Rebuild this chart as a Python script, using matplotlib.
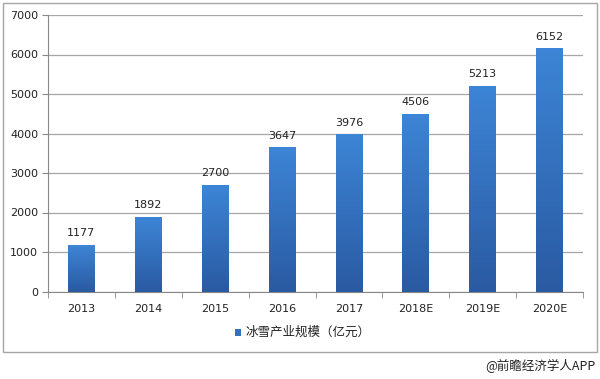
import matplotlib
matplotlib.use("Agg")
import matplotlib.pyplot as plt
import numpy as np
from matplotlib.patches import Rectangle
from matplotlib.colors import LinearSegmentedColormap

plt.rcParams['font.family'] = ['DejaVu Sans', 'Noto Sans CJK SC']

categories = ["2013", "2014", "2015", "2016", "2017", "2018E", "2019E", "2020E"]
values = [1177, 1892, 2700, 3647, 3976, 4506, 5213, 6152]
series_name = "冰雪产业规模（亿元）"
yticks = [0, 1000, 2000, 3000, 4000, 5000, 6000, 7000]

fig = plt.figure(figsize=(6, 3.79), dpi=100)
fig.patch.set_facecolor("white")

# outer frame
fig.add_artist(Rectangle((3/600, 1-352/379), 594/600, 349/379, transform=fig.transFigure,
                         fill=False, edgecolor="#a6a6a6", linewidth=1.0))

ax = fig.add_axes([48/600, 1-291.5/379, 535/600, 276.5/379])
x = np.arange(len(categories))
bw = 0.40
bars = ax.bar(x, values, width=bw, color="#3370c0", zorder=3)

cmap = LinearSegmentedColormap.from_list("g", ["#2a5aa2", "#3d85d6"])
grad = np.linspace(0, 1, 256).reshape(-1, 1)
for b in bars:
    bx, by = b.get_x(), b.get_y()
    w, h = b.get_width(), b.get_height()
    im = ax.imshow(grad, cmap=cmap, aspect="auto", origin="lower",
                   extent=[bx, bx + w, by, by + h], zorder=4)
    im.set_clip_path(b)

for xi, v in zip(x, values):
    ax.text(xi, v + 170, str(v), ha="center", va="bottom", fontsize=8, color="#222222", zorder=5)

ax.set_xlim(-0.5, len(categories) - 0.5)
ax.set_ylim(0, 7000)
ax.set_yticks(yticks)
ax.set_yticklabels([str(t) for t in yticks], fontsize=8, color="#222222")
ax.yaxis.grid(True, color="#a6a6a6", linewidth=0.9, zorder=0)
ax.set_axisbelow(True)
ax.set_xticks(x)
ax.set_xticklabels(categories, fontsize=8, color="#222222")
ax.tick_params(axis="x", length=0, pad=9)
ax.tick_params(axis="y", length=4, color="#888888", direction="out", pad=3)
# minor ticks between categories
ax.set_xticks(np.arange(-0.5, len(categories), 1), minor=True)
ax.tick_params(axis="x", which="minor", length=4, color="#888888", direction="out")
for s in ["top", "right"]:
    ax.spines[s].set_visible(False)
ax.spines["left"].set_color("#888888")
ax.spines["bottom"].set_color("#888888")

# legend
fig.add_artist(Rectangle((235/600, 1-336/379), 6/600, 7/379, transform=fig.transFigure,
                         facecolor="#3370c0", edgecolor="none"))
fig.text(245/600, 1-332.5/379, series_name, fontsize=9, va="center", ha="left",
         family=['Noto Sans CJK SC', 'DejaVu Sans'], color="#222222")

fig.text(596/600, 1-366/379, "@前瞻经济学人APP", fontsize=9, va="center", ha="right",
         family=['Noto Sans CJK SC', 'DejaVu Sans'], color="#222222")

fig.savefig("out.png", dpi=100, facecolor="white")
